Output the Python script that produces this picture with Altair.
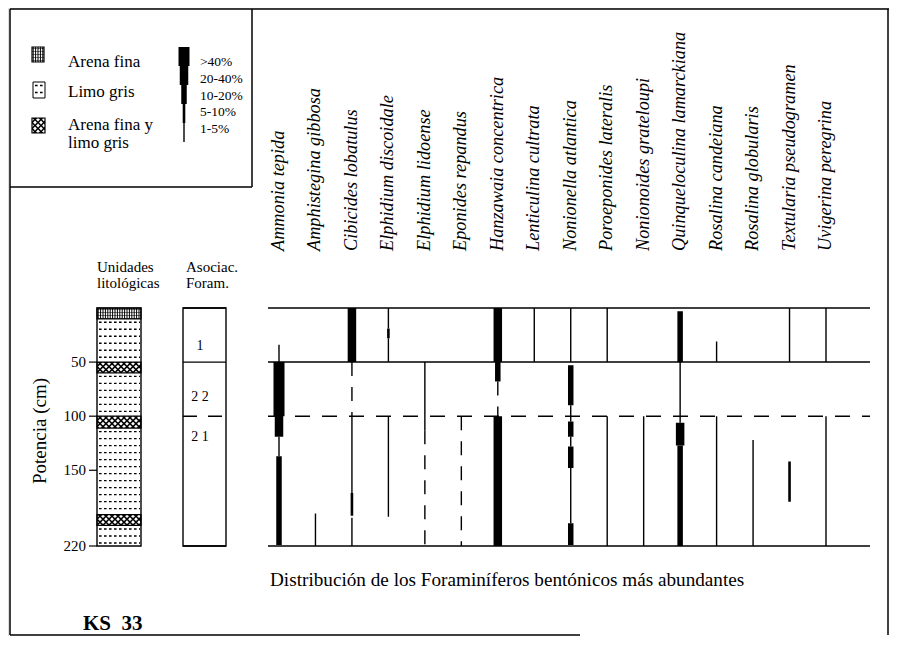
import altair as alt
import numpy as np
import pandas as pd

# ---------------- data ----------------
species = [
    "Ammonia tepida", "Amphistegina gibbosa", "Cibicides lobatulus",
    "Elphidium discoidale", "Elphidium lidoense", "Eponides repandus",
    "Hanzawaia concentrica", "Lenticulina cultrata", "Nonionella atlantica",
    "Poroeponides lateralis", "Nonionoides grateloupi",
    "Quinqueloculina lamarckiana", "Rosalina candeiana", "Rosalina globularis",
    "Textularia pseudogramen", "Uvigerina peregrina",
]

seg_species = (["Ammonia tepida"] * 5 + ["Amphistegina gibbosa"] + ["Cibicides lobatulus"] * 5
               + ["Elphidium discoidale"] * 4 + ["Elphidium lidoense"] * 2 + ["Eponides repandus"]
               + ["Hanzawaia concentrica"] * 4 + ["Lenticulina cultrata"] + ["Nonionella atlantica"] * 8
               + ["Poroeponides lateralis"] * 2 + ["Nonionoides grateloupi"]
               + ["Quinqueloculina lamarckiana"] * 4 + ["Rosalina candeiana"] * 2
               + ["Rosalina globularis"] + ["Textularia pseudogramen"] * 2 + ["Uvigerina peregrina"] * 2)
seg_top = [34, 50, 100, 119, 137, 190, 0, 50, 100, 171, 194, 0, 19, 28, 100, 50, 113, 100,
           0, 50, 68, 100, 0, 0, 53, 90, 105, 119, 128, 148, 199, 0, 100, 100, 3, 50, 106, 127,
           31, 100, 122, 0, 142, 0, 100]
seg_bottom = [50, 100, 119, 137, 219, 220, 50, 100, 171, 192, 220, 19, 28, 50, 193, 113, 220, 220,
              50, 68, 100, 220, 50, 50, 90, 105, 119, 128, 148, 199, 219, 50, 220, 220, 50, 106, 127, 220,
              50, 220, 220, 50, 179, 50, 220]
seg_class = ["1-5%", ">40%", "20-40%", "1-5%", "10-20%", "1-5%",
             "20-40%", "<1%", "1-5%", "5-10%", "1-5%",
             "1-5%", "5-10%", "1-5%", "1-5%",
             "1-5%", "<1%", "<1%",
             "20-40%", "10-20%", "<1%", "20-40%", "1-5%",
             "1-5%", "10-20%", "1-5%", "10-20%", "1-5%", "10-20%", "1-5%", "10-20%",
             "1-5%", "1-5%", "1-5%",
             "10-20%", "1-5%", "20-40%", "10-20%",
             "1-5%", "1-5%", "1-5%", "1-5%", "5-10%", "1-5%", "1-5%"]

litho_top = [0, 10, 50, 60, 100, 111, 191, 201]
litho_bottom = [10, 50, 60, 100, 111, 191, 201, 220]
litho_type = ["Arena fina", "Limo gris", "Arena fina y limo gris", "Limo gris",
              "Arena fina y limo gris", "Limo gris", "Arena fina y limo gris", "Limo gris"]
litho_legend = ["Arena fina", "Limo gris", "Arena fina y limo gris"]
litho_legend_text = [["Arena fina"], ["Limo gris"], ["Arena fina y", "limo gris"]]

assoc_top = [0, 50, 100]
assoc_bottom = [50, 100, 220]
assoc_label = ["1", "2 2", "2 1"]
assoc_label_depth = [39, 86, 123]

boundary_depths = [0, 50, 100, 220]
boundary_dashed = [False, False, True, False]

depth_ticks = [50, 100, 150, 220]
abund_classes = [">40%", "20-40%", "10-20%", "5-10%", "1-5%"]

# ---------------- styling ----------------
FONT = "Liberation Serif"
W, H = 881, 628
CLASSES = ["<1%", "1-5%", "5-10%", "10-20%", "20-40%", ">40%"]
WIDTHS = [1.4, 1.4, 2.6, 5.5, 8.5, 11]
DASHES = [[14, 11], [1, 0], [1, 0], [1, 0], [1, 0], [1, 0]]
ONE = pd.DataFrame({"k": [0]})


def P(v):
    return v - 8


DEPTH_RANGE = [P(308), P(546)]
PPU = (DEPTH_RANGE[1] - DEPTH_RANGE[0]) / 220.0


def depth_scale():
    return alt.Scale(domain=[0, 220], range=DEPTH_RANGE, nice=False, zero=False)


SP_SCALE = alt.Scale(type="point", domain=species, range=[P(279), P(826)], padding=0)
SW = alt.StrokeWidth("cls:N", scale=alt.Scale(type="ordinal", domain=CLASSES, range=WIDTHS), legend=None)
SD = alt.StrokeDash("cls:N", scale=alt.Scale(type="ordinal", domain=CLASSES, range=DASHES), legend=None)


def hrule(x0, x1, y, sw=1.5, dash=None):
    kw = dict(color="black", strokeWidth=sw)
    if dash:
        kw["strokeDash"] = dash
    return alt.Chart(ONE).mark_rule(**kw).encode(
        x=alt.value(P(x0)), x2=alt.value(P(x1)), y=alt.value(P(y)))


def vrule(x, y0, y1, sw=1.5):
    return alt.Chart(ONE).mark_rule(color="black", strokeWidth=sw).encode(
        x=alt.value(P(x)), y=alt.value(P(y0)), y2=alt.value(P(y1)))


def txt(s, x, y, size, align="left", baseline="alphabetic", angle=0, style="normal", weight="normal"):
    return alt.Chart(pd.DataFrame({"t": [s]})).mark_text(
        align=align, baseline=baseline, angle=angle, fontSize=size, font=FONT,
        fontStyle=style, fontWeight=weight, color="black").encode(
        x=alt.value(P(x)), y=alt.value(P(y)), text="t:N")


def texture(kind, t, b, x0, x1, yscale, ppu):
    Wd = x1 - x0
    h = (b - t) * ppu
    xsc = alt.Scale(domain=[0, Wd], range=[P(x0), P(x1)], nice=False, zero=False)
    box = pd.DataFrame({"t": [t], "b": [b]})
    out = []
    if kind == "Limo gris":
        rows = t + np.arange(3.5, h - 1.0, 7.0) / ppu
        out.append(alt.Chart(pd.DataFrame({"y": rows})).mark_rule(
            color="black", strokeWidth=1.4, strokeDash=[2.6, 2.4]).encode(
            x=alt.value(P(x0 + 2)), x2=alt.value(P(x1 - 1)),
            y=alt.Y("y:Q", scale=yscale, axis=None)))
    elif kind == "Arena fina":
        cols = np.arange(1.2, Wd, 2.4)
        out.append(alt.Chart(pd.DataFrame({"u": cols, "t": t, "b": b})).mark_rule(
            color="black", strokeWidth=1.0).encode(
            x=alt.X("u:Q", scale=xsc, axis=None),
            y=alt.Y("t:Q", scale=yscale, axis=None), y2="b:Q"))
        rows = t + np.arange(1.5, h, 3.0) / ppu
        out.append(alt.Chart(pd.DataFrame({"y": rows})).mark_rule(
            color="black", strokeWidth=0.5).encode(
            x=alt.value(P(x0)), x2=alt.value(P(x1)),
            y=alt.Y("y:Q", scale=yscale, axis=None)))
    else:
        out.append(alt.Chart(box).mark_rect(color="black").encode(
            x=alt.value(P(x0)), x2=alt.value(P(x1)),
            y=alt.Y("t:Q", scale=yscale, axis=None), y2="b:Q"))
        us, ys = [], []
        for j, v in enumerate(np.arange(1.5, h, 3.0)):
            for u in np.arange(3.0 * (j % 2), Wd + 0.1, 6.0):
                us.append(u)
                ys.append(t + v / ppu)
        out.append(alt.Chart(pd.DataFrame({"u": us, "y": ys})).mark_point(
            shape="diamond", filled=True, color="white", size=15, opacity=1, strokeWidth=0).encode(
            x=alt.X("u:Q", scale=xsc, axis=None),
            y=alt.Y("y:Q", scale=yscale, axis=None)))
    if kind != "Limo gris":
        out.append(alt.Chart(box).mark_rect(fillOpacity=0, stroke="black", strokeWidth=1.2).encode(
            x=alt.value(P(x0)), x2=alt.value(P(x1)),
            y=alt.Y("t:Q", scale=yscale, axis=None), y2="b:Q"))
    return out


layers = []

# ---- outer frame and legend box ----
layers += [hrule(10, 889, 9), vrule(10, 9, 635), vrule(888, 9, 635), hrule(10, 580, 635),
           vrule(252, 9, 187), hrule(10, 252, 187)]

# ---- lithology legend ----
swatches = [(32, 44, 47, 62), (33, 45, 82, 98), (32, 45, 118, 133)]
text_base = [[66.5], [96.5], [129.5, 147.5]]
for kind, (x0, x1, y0, y1), lines, bases in zip(litho_legend, swatches, litho_legend_text, text_base):
    ysc = alt.Scale(domain=[0, y1 - y0], range=[P(y0), P(y1)], nice=False, zero=False)
    layers += texture(kind, 0, y1 - y0, x0, x1, ysc, 1.0)
    if kind == "Limo gris":
        layers.append(alt.Chart(pd.DataFrame({"t": [0], "b": [y1 - y0]})).mark_rect(
            fillOpacity=0, stroke="black", strokeWidth=1.0).encode(
            x=alt.value(P(x0)), x2=alt.value(P(x1)),
            y=alt.Y("t:Q", scale=ysc, axis=None), y2="b:Q"))
    for line, yb in zip(lines, bases):
        layers.append(txt(line, 68, yb, 17))

# ---- abundance legend ----
leg = pd.DataFrame({"cls": abund_classes, "i": list(range(len(abund_classes)))})
layers.append(alt.Chart(leg).transform_calculate(j="datum.i + 1").mark_rule(color="black").encode(
    x=alt.value(P(184)),
    y=alt.Y("i:Q", scale=alt.Scale(domain=[0, 5], range=[P(47), P(142)], nice=False, zero=False), axis=None),
    y2="j:Q", strokeWidth=SW))
layers.append(alt.Chart(leg).mark_text(align="left", baseline="middle", fontSize=13.5, font=FONT,
                                       color="black").encode(
    x=alt.value(P(200)),
    y=alt.Y("cls:N", scale=alt.Scale(type="point", domain=abund_classes, range=[P(62), P(129)], padding=0),
            axis=None),
    text="cls:N"))

# ---- lithology column ----
for kind, t, b in zip(litho_type, litho_top, litho_bottom):
    layers += texture(kind, t, b, 97, 141, depth_scale(), PPU)
col = pd.DataFrame({"top": [litho_top[0]], "bottom": [litho_bottom[-1]]})
layers.append(alt.Chart(col).mark_rect(fillOpacity=0, stroke="black", strokeWidth=1.4).encode(
    x=alt.value(P(97)), x2=alt.value(P(141)),
    y=alt.Y("top:Q", scale=depth_scale(), axis=None), y2="bottom:Q"))

# depth axis
tk = pd.DataFrame({"d": depth_ticks})
layers.append(alt.Chart(tk).mark_rule(color="black", strokeWidth=1.2).encode(
    x=alt.value(P(89)), x2=alt.value(P(97)), y=alt.Y("d:Q", scale=depth_scale(), axis=None)))
layers.append(alt.Chart(tk).mark_text(align="right", baseline="middle", fontSize=15, font=FONT,
                                      color="black").encode(
    x=alt.value(P(86)), y=alt.Y("d:Q", scale=depth_scale(), axis=None), text="d:Q"))
layers.append(txt("Potencia (cm)", 40, 431, 19, align="center", baseline="middle", angle=270))

# headers
layers += [txt("Unidades", 97, 272, 15), txt("litológicas", 97, 288, 15),
           txt("Asociac.", 186, 272, 15), txt("Foram.", 186, 288, 15)]

# ---- assemblage column ----
bdf = pd.DataFrame({"depth": boundary_depths, "dashed": boundary_dashed})
acol = pd.DataFrame({"top": [assoc_top[0]], "bottom": [assoc_bottom[-1]]})
layers.append(alt.Chart(acol).mark_rect(fillOpacity=0, stroke="black", strokeWidth=1.4).encode(
    x=alt.value(P(183)), x2=alt.value(P(226)),
    y=alt.Y("top:Q", scale=depth_scale(), axis=None), y2="bottom:Q"))
layers.append(alt.Chart(bdf).transform_filter("!datum.dashed").mark_rule(color="black", strokeWidth=1.4).encode(
    x=alt.value(P(183)), x2=alt.value(P(226)), y=alt.Y("depth:Q", scale=depth_scale(), axis=None)))
layers.append(alt.Chart(bdf).transform_filter("datum.dashed").mark_rule(
    color="black", strokeWidth=1.4, strokeDash=[14, 11]).encode(
    x=alt.value(P(183)), x2=alt.value(P(226)), y=alt.Y("depth:Q", scale=depth_scale(), axis=None)))
adf = pd.DataFrame({"lab": assoc_label, "d": assoc_label_depth})
layers.append(alt.Chart(adf).mark_text(align="center", baseline="alphabetic", fontSize=14, font=FONT,
                                       color="black").encode(
    x=alt.value(P(200)), y=alt.Y("d:Q", scale=depth_scale(), axis=None), text="lab:N"))

# ---- main distribution panel ----
layers.append(alt.Chart(bdf).transform_filter("!datum.dashed").mark_rule(color="black", strokeWidth=1.5).encode(
    x=alt.value(P(268)), x2=alt.value(P(870)), y=alt.Y("depth:Q", scale=depth_scale(), axis=None)))
layers.append(alt.Chart(bdf).transform_filter("datum.dashed").mark_rule(
    color="black", strokeWidth=1.5, strokeDash=[15, 12]).encode(
    x=alt.value(P(268)), x2=alt.value(P(870)), y=alt.Y("depth:Q", scale=depth_scale(), axis=None)))

seg_df = pd.DataFrame({"species": seg_species, "top": seg_top, "bottom": seg_bottom, "cls": seg_class})
layers.append(alt.Chart(seg_df).mark_rule(color="black").encode(
    x=alt.X("species:N", scale=SP_SCALE, axis=None),
    y=alt.Y("top:Q", scale=depth_scale(), axis=None),
    y2="bottom:Q", strokeWidth=SW, strokeDash=SD))

layers.append(alt.Chart(pd.DataFrame({"species": species})).mark_text(
    angle=270, align="left", baseline="middle", font=FONT, fontStyle="italic", fontSize=18.3,
    color="black").encode(
    x=alt.X("species:N", scale=SP_SCALE, axis=None), y=alt.value(P(251)), text="species:N"))

layers.append(txt("Distribución de los Foraminíferos bentónicos más abundantes", 270, 586, 19.2))
layers.append(txt("KS\u00a0\u00a033", 83, 630, 21, weight="bold"))

chart = alt.layer(*layers).properties(
    width=W, height=H, autosize=alt.AutoSizeParams(type="none"), padding=0
).resolve_scale(x="independent", y="independent").configure_view(stroke=None).configure(background="white")

chart.save("out.html", embed_options={"renderer": "svg", "actions": False})
